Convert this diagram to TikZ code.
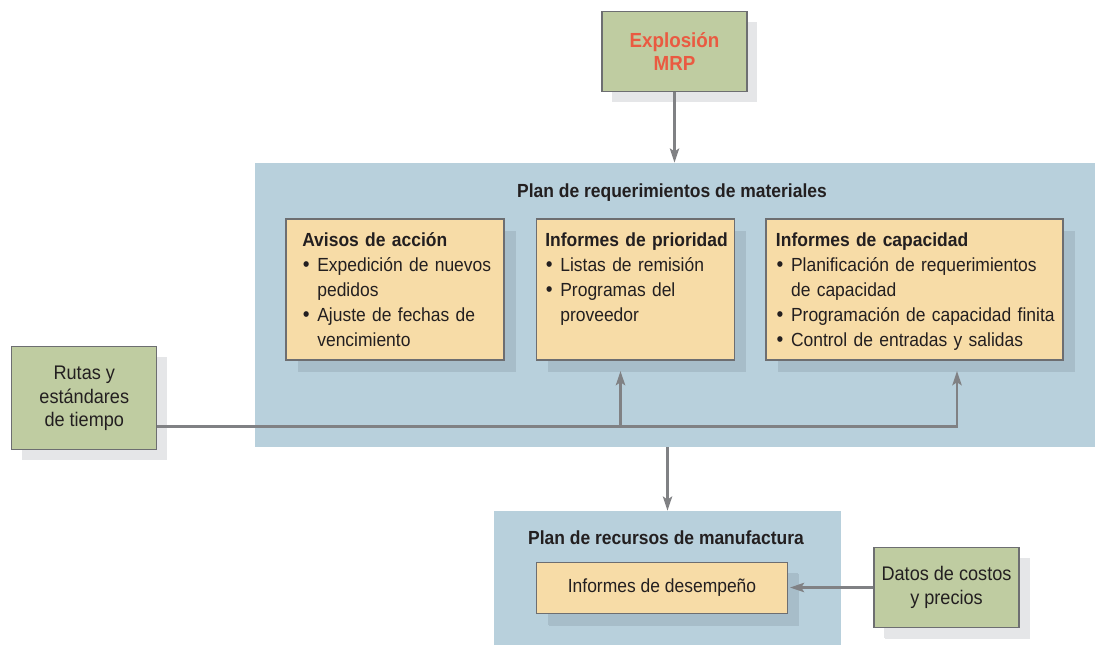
\documentclass[tikz,border=0pt]{standalone}
\usepackage{fontspec}
\setmainfont{Liberation Sans}[FakeStretch=0.92]
\usetikzlibrary{positioning,calc,shadows,arrows.meta}

\definecolor{boxgreen}{HTML}{BFCCA1}
\definecolor{boxtan}{HTML}{F7DCA7}
\definecolor{planblue}{HTML}{B8D0DC}
\definecolor{shadeblue}{HTML}{A7BDC9}
\definecolor{shadewhite}{HTML}{E5E6E8}
\definecolor{edgegray}{HTML}{6D6E71}
\definecolor{flowgray}{HTML}{808184}
\definecolor{mrpred}{HTML}{EA5A41}
\definecolor{inkdark}{HTML}{231F20}

\newcommand\bitem{\par\hangindent=10.7pt\hangafter=1\noindent\makebox[10.7pt][l]{\hspace{0.5pt}{\fontsize{15}{15}\selectfont\textbullet}}}

\begin{document}
\begin{tikzpicture}[
    x=0.025cm,
    y=-0.025cm,
    font=\fontsize{13.5}{17.8}\selectfont,
    text=inkdark,
    greenbox/.style={
        draw=edgegray,
        line width=0.8pt,
        fill=boxgreen,
        minimum width=3.625cm,
        align=center,
        font=\fontsize{14}{16.6}\selectfont,
        general shadow={fill=shadewhite, shadow xshift=0.26cm, shadow yshift=-0.26cm}
    },
    tanbox/.style={
        draw=edgegray,
        line width=0.8pt,
        fill=boxtan,
        minimum height=3.525cm,
        general shadow={fill=shadeblue, shadow xshift=0.3cm, shadow yshift=-0.3cm}
    },
    planarea/.style={
        fill=planblue,
        inner sep=0pt
    },
    heading/.style={
        font=\fontsize{13.5}{17.8}\selectfont\bfseries,
        inner sep=0pt,
        anchor=base
    },
    itemtext/.style={
        anchor=base west,
        inner sep=0pt,
        align=left
    },
    flow/.style={
        draw=flowgray,
        line width=2pt,
        -{Stealth[length=10pt,width=6.5pt,inset=2pt]}
    }
]

\useasboundingbox (0,0) rectangle (1097,645);

%%%%%%%%%%%%%%%%%%%%%%%%%%%%%%%%%%%%%%%%%%%%%%%%%%%%
%% Plan areas
%%%%%%%%%%%%%%%%%%%%%%%%%%%%%%%%%%%%%%%%%%%%%%%%%%%%

\node[planarea,minimum width=21cm,minimum height=7.1cm] (mrpplan) at (675,305) {};
\node[heading] (mrptitle) at (672,197) {Plan de requerimientos de materiales};

\node[planarea,minimum width=8.675cm,minimum height=3.35cm] (recursos) at (667.5,578) {};
\node[heading] (recursostitle) at (666,544) {Plan de recursos de manufactura};

%%%%%%%%%%%%%%%%%%%%%%%%%%%%%%%%%%%%%%%%%%%%%%%%%%%%
%% Inputs
%%%%%%%%%%%%%%%%%%%%%%%%%%%%%%%%%%%%%%%%%%%%%%%%%%%%

\node[greenbox,minimum height=2cm,font=\fontsize{14.5}{17}\selectfont\bfseries,text=mrpred]
    (explosion) at (674.5,51.5) {Explosión\\MRP};

\node[greenbox,minimum height=2.575cm] (rutas) at (84.3,398.3)
{Rutas y\\estándares\\de tiempo};

\node[greenbox,minimum height=2.01cm,general shadow={fill=shadewhite, shadow xshift=0.275cm, shadow yshift=-0.275cm}]
    (datos) at (946.5,587.5) {Datos de costos\\y precios};

%%%%%%%%%%%%%%%%%%%%%%%%%%%%%%%%%%%%%%%%%%%%%%%%%%%%
%% Reports
%%%%%%%%%%%%%%%%%%%%%%%%%%%%%%%%%%%%%%%%%%%%%%%%%%%%

\node[tanbox,minimum width=5.45cm] (avisos) at (395,289.5) {};
\node[tanbox,minimum width=4.94cm] (prioridad) at (635.25,289.5) {};
\node[tanbox,minimum width=7.425cm] (capacidad) at (914.5,289.5) {};

\node[itemtext,text width=5cm] (avisostxt) at (302,246.7)
{\textbf{Avisos de acción}
\bitem Expedición de nuevos\newline pedidos
\bitem Ajuste de fechas de\newline vencimiento\par};

\node[itemtext,text width=4.8cm] (prioridadtxt) at (545,246.7)
{\textbf{Informes de prioridad}
\bitem Listas de remisión
\bitem Programas del\newline proveedor\par};

\node[itemtext,text width=7.2cm] (capacidadtxt) at (775.7,246.7)
{\textbf{Informes de capacidad}
\bitem Planificación de requerimientos\newline de capacidad
\bitem Programación de capacidad finita
\bitem Control de entradas y salidas\par};

\node[tanbox,minimum width=6.265cm,minimum height=1.285cm,
    general shadow={fill=shadeblue, shadow xshift=0.275cm, shadow yshift=-0.275cm}]
    (desempeno) at (662,588) {Informes de desempeño};

%%%%%%%%%%%%%%%%%%%%%%%%%%%%%%%%%%%%%%%%%%%%%%%%%%%%
%% Connectors
%%%%%%%%%%%%%%%%%%%%%%%%%%%%%%%%%%%%%%%%%%%%%%%%%%%%

\coordinate (busstart) at ([yshift=0.6cm]rutas.south east);
\coordinate (prioin) at (620.5,371);
\coordinate (capin) at (957,371);

\draw[flow] (explosion) -- (explosion |- mrpplan.north);
\draw[flow] (busstart) -| (capin);
\draw[flow] (prioin |- busstart) -- (prioin);
\draw[flow] (mrpplan.south -| recursos.north) -- (recursos.north);
\draw[flow] (datos.west) -- ([xshift=0.05cm]desempeno.east |- datos.west);

\end{tikzpicture}
\end{document}
